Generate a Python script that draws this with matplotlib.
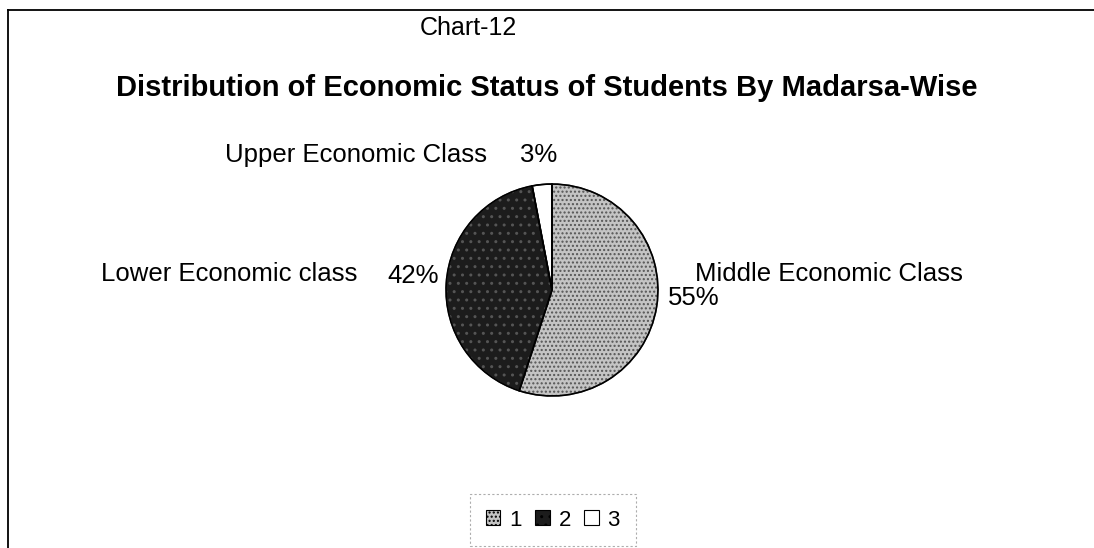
import matplotlib
matplotlib.use("Agg")
import matplotlib.pyplot as plt
from matplotlib.patches import Rectangle, Wedge

plt.rcParams['font.family'] = ['Liberation Sans', 'DejaVu Sans']

categories = ["Middle Economic Class", "Lower Economic class", "Upper Economic Class"]
legend_labels = ["1", "2", "3"]
values = [55, 42, 3]
colors = ["#c4c4c4", "#1c1c1c", "#ffffff"]
hatches = ["....", "..", None]

W, H = 1094, 548
fig = plt.figure(figsize=(W / 100, H / 100), dpi=100)

def fx(px):
    return px / W

def fy(py):
    return 1 - py / H

# outer frame (only left and top edges show)
fig.add_artist(plt.Line2D([fx(8), fx(8)], [fy(10), 0.0], color="black", lw=1.3))
fig.add_artist(plt.Line2D([fx(8), 1.0], [fy(10), fy(10)], color="black", lw=1.3))

fig.text(fx(468), fy(28), "Chart-12", fontsize=18, ha="center", va="center")
fig.text(fx(547), fy(96), "Distribution of Economic Status of Students By Madarsa-Wise",
         fontsize=21, fontweight="bold", ha="center", va="baseline")

# pie: centre about (552, 290) px, radius ~107 px
cx, cy, r = 552, 290, 107
ax = fig.add_axes([fx(cx - r), fy(cy + r), 2 * r / W, 2 * r / H])
wedges, _ = ax.pie(values, colors=colors, startangle=90, counterclock=False,
                   wedgeprops=dict(edgecolor="black", linewidth=1.0))
for w, h in zip(wedges, hatches):
    if h:
        w.set_hatch(h)
        w.set_edgecolor("#555555")
    ax.add_patch(Wedge(w.center, w.r, w.theta1, w.theta2,
                       fill=False, edgecolor="black", lw=1.2))
ax.set_xlim(-1.01, 1.01)
ax.set_ylim(-1.01, 1.01)
ax.axis("off")

# category labels
lab = 18.5
fig.text(fx(695), fy(274), categories[0], fontsize=lab, ha="left", va="center")
fig.text(fx(668), fy(298), f"{values[0]}%", fontsize=lab, ha="left", va="center")
fig.text(fx(357), fy(274), categories[1], fontsize=lab, ha="right", va="center")
fig.text(fx(387), fy(276), f"{values[1]}%", fontsize=lab, ha="left", va="center")
fig.text(fx(225), fy(155), categories[2], fontsize=lab, ha="left", va="center")
fig.text(fx(520), fy(155), f"{values[2]}%", fontsize=lab, ha="left", va="center")

# legend
handles = []
for c, h in zip(colors, hatches):
    p = Rectangle((0, 0), 1, 1, facecolor=c, edgecolor="black", lw=0.8)
    if h:
        p.set_hatch(h)
    handles.append(p)
leg = fig.legend(handles, legend_labels, loc="center", bbox_to_anchor=(fx(553), fy(520)),
                 ncol=3, fontsize=16, frameon=True, fancybox=False, handlelength=0.65,
                 handleheight=0.65, handletextpad=0.4, columnspacing=0.6, borderpad=0.7)
leg.get_frame().set_edgecolor("#999999")
leg.get_frame().set_linestyle((0, (2, 2)))
leg.get_frame().set_linewidth(0.8)

fig.savefig("out.png", dpi=100)
